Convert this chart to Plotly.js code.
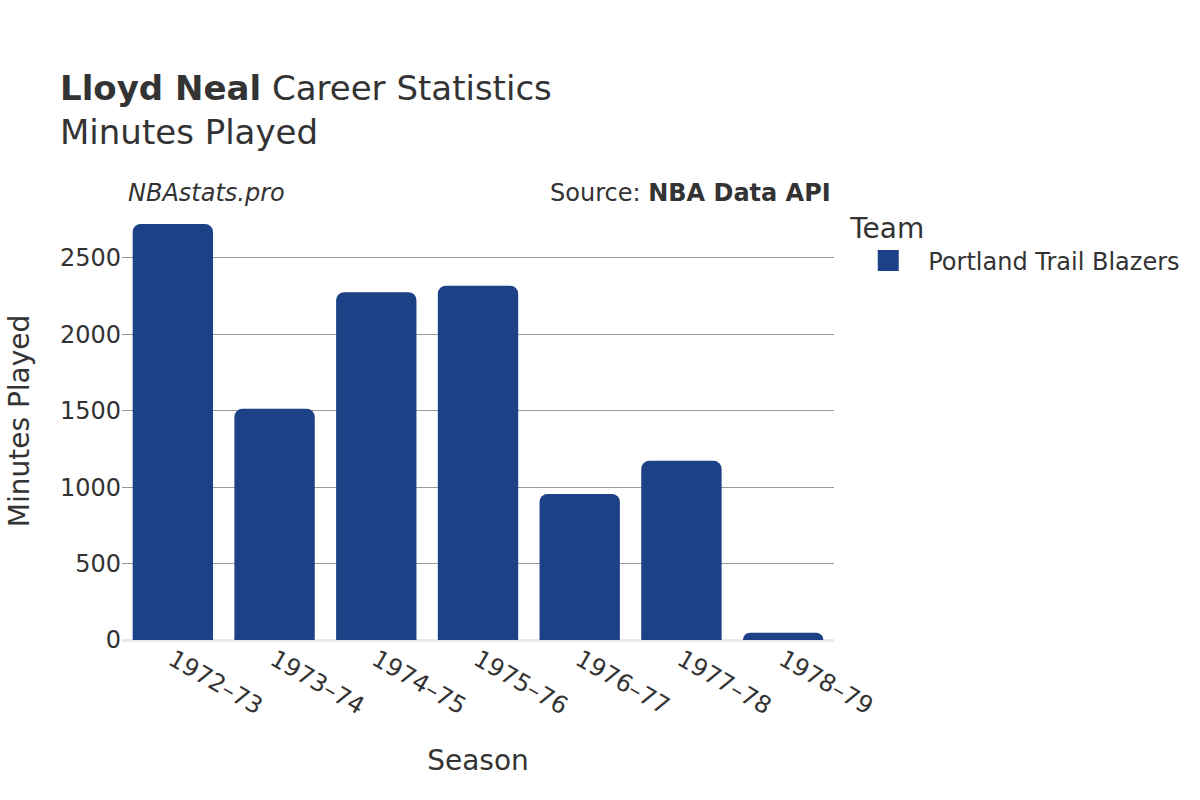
<!DOCTYPE html>
<html>
<head>
<meta charset="utf-8">
<script src="https://cdn.plot.ly/plotly-3.0.1.min.js"></script>
<style>html,body{margin:0;padding:0;background:#fff;}#chart{width:1200px;height:800px;}</style>
</head>
<body>
<div id="chart"></div>
<script>
const seasons = ["1972–73","1973–74","1974–75","1975–76","1976–77","1977–78","1978–79"];
const minutes = [2722, 1512, 2275, 2318, 955, 1172, 48];
const teamName = "Portland Trail Blazers";
const teamColor = "#1c4187";

const font = "DejaVu Sans, sans-serif";
const data = [{
  type: "bar",
  x: seasons,
  y: minutes,
  name: teamName,
  showlegend: false,
  legendgroup: "team",
  marker: {color: teamColor, cornerradius: 8},
  hoverinfo: "x+y"
}, {
  type: "scatter",
  mode: "markers",
  x: [null],
  y: [null],
  name: teamName,
  legendgroup: "team",
  showlegend: true,
  hoverinfo: "skip",
  marker: {color: teamColor, symbol: "square", size: 16, line: {color: teamColor, width: 5}}
}];
const layout = {
  width: 1200, height: 800,
  paper_bgcolor: "#fff", plot_bgcolor: "#fff",
  font: {family: font, color: "#333", size: 24},
  showlegend: true,
  margin: {l: 122, r: 366, t: 202, b: 160},
  bargap: 0.21,
  title: {text: "<b>Lloyd Neal</b> Career Statistics<br>Minutes Played", x: 0.05, xanchor: "left", y: 0.875, yanchor: "top", font: {size: 34, family: font, color: "#333"}},
  xaxis: {title: {text: "Season", font: {size: 28}, standoff: 30}, tickangle: 30, tickfont: {size: 24}, showgrid: false, ticks: "", automargin: false},
  yaxis: {title: {text: "Minutes Played", font: {size: 28}, standoff: 22}, tickfont: {size: 24}, gridcolor: "#999", gridwidth: 1, zeroline: true, zerolinecolor: "#e8e8ee", zerolinewidth: 3, dtick: 500, automargin: false, ticks: ""},
  legend: {title: {text: "Team", font: {size: 28}}, x: 1.02, y: 1.0, xanchor: "left", yanchor: "top", font: {size: 24}, itemwidth: 70, itemsizing: "trace"},
  annotations: [
    {text: "<i>NBAstats.pro</i>", xref: "paper", yref: "paper", x: 0.005, y: 0.985, xanchor: "left", yanchor: "bottom", showarrow: false, font: {size: 24, color: "#333"}},
    {text: "Source: <b>NBA Data API</b>", xref: "paper", yref: "paper", x: 0.999, y: 0.985, xanchor: "right", yanchor: "bottom", showarrow: false, font: {size: 24, color: "#333"}}
  ]
};
Plotly.newPlot("chart", data, layout, {displayModeBar: false});
</script>
</body>
</html>
